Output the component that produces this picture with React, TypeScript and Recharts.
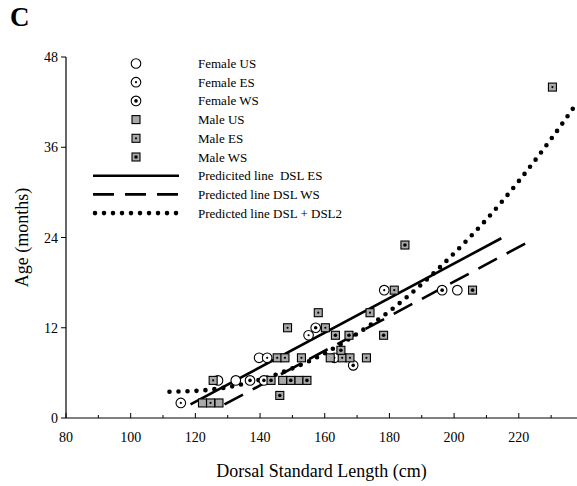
import React from "react";
import {
  ComposedChart,
  Scatter,
  Line,
  XAxis,
  YAxis,
  Legend,
} from "recharts";

const xTicks = [80, 90, 100, 110, 120, 130, 140, 150, 160, 170, 180, 190, 200, 210, 220, 230];
const xLabelled = [80, 100, 120, 140, 160, 180, 200, 220];
const yTicks = [0, 12, 24, 36, 48];

// observed points: x = dorsal standard length (cm), y = age (months)
const femaleUS = [
  { x: 127, y: 5 },
  { x: 132.5, y: 5 },
  { x: 139.7, y: 8 },
  { x: 201, y: 17 },
];
const femaleES = [
  { x: 115.5, y: 2 },
  { x: 142.2, y: 8 },
  { x: 155, y: 11 },
  { x: 163, y: 8 },
  { x: 178.4, y: 17 },
];
const femaleWS = [
  { x: 136.9, y: 5 },
  { x: 141.2, y: 5 },
  { x: 157.2, y: 12 },
  { x: 168.8, y: 7 },
  { x: 196.3, y: 17 },
];
const maleUS = [
  { x: 122.2, y: 2 },
  { x: 127.3, y: 2 },
  { x: 147, y: 5 },
  { x: 152, y: 5 },
  { x: 161.7, y: 8 },
];
const maleES = [
  { x: 124.7, y: 2 },
  { x: 125.5, y: 5 },
  { x: 145.3, y: 8 },
  { x: 147.7, y: 8 },
  { x: 152.8, y: 8 },
  { x: 148.5, y: 12 },
  { x: 160.2, y: 12 },
  { x: 158, y: 14 },
  { x: 174, y: 14 },
  { x: 165.4, y: 8 },
  { x: 167.8, y: 8 },
  { x: 172.9, y: 8 },
  { x: 181.5, y: 17 },
  { x: 230.4, y: 44 },
];
const maleWS = [
  { x: 143.4, y: 5 },
  { x: 149.5, y: 5 },
  { x: 154.5, y: 5 },
  { x: 146.1, y: 3 },
  { x: 163.3, y: 11 },
  { x: 167.5, y: 11 },
  { x: 178.2, y: 11 },
  { x: 165, y: 9 },
  { x: 184.8, y: 23 },
  { x: 205.7, y: 17 },
];

// predicted lines
const lineES = [
  { x: 118.5, y: 1.8 },
  { x: 214.6, y: 23.9 },
];
const lineWS = [
  { x: 129, y: 1.8 },
  { x: 222, y: 23.2 },
];
const lineQuad = [
  { x: 112, y: 3.5 },
  { x: 120, y: 3.6 },
  { x: 130, y: 4.1 },
  { x: 140, y: 5.1 },
  { x: 150, y: 6.6 },
  { x: 160, y: 8.6 },
  { x: 170, y: 11.2 },
  { x: 180, y: 14.2 },
  { x: 190, y: 17.8 },
  { x: 200, y: 21.9 },
  { x: 210, y: 26.4 },
  { x: 220, y: 31.5 },
  { x: 230, y: 37.1 },
  { x: 238, y: 41.9 },
];

const legendNames = [
  "Female US",
  "Female ES",
  "Female WS",
  "Male US",
  "Male ES",
  "Male WS",
  "Predicited line  DSL ES",
  "Predicted line DSL WS",
  "Predicted line DSL + DSL2",
];

const font = "'Liberation Serif', 'Times New Roman', serif";

type Kind = "fUS" | "fES" | "fWS" | "mUS" | "mES" | "mWS";
const kinds: Kind[] = ["fUS", "fES", "fWS", "mUS", "mES", "mWS"];

function Marker({ cx, cy, kind }: { cx: number; cy: number; kind: Kind }) {
  const dotR = kind.endsWith("ES") ? 1.1 : kind.endsWith("WS") ? 1.8 : 0;
  if (kind.startsWith("f")) {
    return (
      <g>
        <circle cx={cx} cy={cy} r={4.8} fill="#fff" stroke="#000" strokeWidth={1.1} />
        {dotR > 0 && <circle cx={cx} cy={cy} r={dotR} fill="#000" />}
      </g>
    );
  }
  return (
    <g>
      <rect x={cx - 4} y={cy - 4} width={8} height={8} fill="#a9a9a9" stroke="#000" strokeWidth={1.1} />
      {dotR > 0 && <circle cx={cx} cy={cy} r={dotR} fill="#000" />}
    </g>
  );
}

const XTick = (props: any) => {
  const { x, y, payload } = props;
  const major = xLabelled.includes(payload.value);
  return (
    <g>
      <line x1={x} x2={x} y1={y} y2={y - (major ? 5 : 3)} stroke="#000" strokeWidth={1} />
      {major && (
        <text x={x} y={y + 24} textAnchor="middle" fontFamily={font} fontSize={14} fill="#000">
          {payload.value}
        </text>
      )}
    </g>
  );
};

const YTick = (props: any) => {
  const { x, y, payload } = props;
  return (
    <g>
      <line x1={x - 5} x2={x} y1={y} y2={y} stroke="#000" strokeWidth={1} />
      <text x={x - 8} y={y + 5} textAnchor="end" fontFamily={font} fontSize={14} fill="#000">
        {payload.value}
      </text>
    </g>
  );
};

const renderLegend = () => {
  const x0 = 93;
  const x1 = 179;
  const mx = 136;
  const tx = 198;
  const rowY = (i: number) => 63.5 + i * 18.7;
  return (
    <svg width={360} height={225} style={{ display: "block" }}>
      {legendNames.map((name, i) => {
        const y = rowY(i);
        let sample: React.ReactNode = null;
        if (i < 6) sample = <Marker cx={mx} cy={y} kind={kinds[i]} />;
        else if (i === 6)
          sample = <line x1={x0} x2={x1} y1={y} y2={y} stroke="#000" strokeWidth={2.6} />;
        else if (i === 7)
          sample = (
            <line x1={x0} x2={x1} y1={y} y2={y} stroke="#000" strokeWidth={2.6} strokeDasharray="21 11" />
          );
        else
          sample = (
            <line
              x1={x0 + 2}
              x2={x1}
              y1={y}
              y2={y}
              stroke="#000"
              strokeWidth={4.6}
              strokeLinecap="round"
              strokeDasharray="0 9"
            />
          );
        return (
          <g key={name}>
            {sample}
            <text x={tx} y={y + 4.5} fontFamily={font} fontSize={13} fill="#000" style={{ whiteSpace: "pre" }}>
              {name}
            </text>
          </g>
        );
      })}
    </svg>
  );
};

const seriesSets: { data: { x: number; y: number }[]; kind: Kind }[] = [
  { data: femaleUS, kind: "fUS" },
  { data: femaleES, kind: "fES" },
  { data: femaleWS, kind: "fWS" },
  { data: maleUS, kind: "mUS" },
  { data: maleES, kind: "mES" },
  { data: maleWS, kind: "mWS" },
];

export default function App() {
  return (
    <div style={{ position: "absolute", left: 0, top: 0, width: 577, height: 486, background: "#fff" }}>
      <div
        style={{
          position: "absolute",
          left: 10,
          top: 2,
          fontFamily: font,
          fontWeight: "bold",
          fontSize: 27,
          lineHeight: "30px",
          zIndex: 2,
        }}
      >
        C
      </div>
      <ComposedChart width={577} height={486} margin={{ top: 57, right: 0, bottom: 0, left: 0 }}>
        <XAxis
          type="number"
          dataKey="x"
          domain={[80, 238]}
          allowDataOverflow
          ticks={xTicks}
          interval={0}
          height={68}
          tickSize={0}
          tickMargin={0}
          tickLine={false}
          tick={XTick}
          axisLine={{ stroke: "#000", strokeWidth: 1.2 }}
          label={{
            value: "Dorsal Standard Length (cm)",
            position: "insideBottom",
            offset: 9,
            fontFamily: font,
            fontSize: 18,
            fill: "#000",
          }}
        />
        <YAxis
          type="number"
          dataKey="y"
          domain={[0, 48]}
          ticks={yTicks}
          interval={0}
          width={66}
          tickSize={0}
          tickMargin={0}
          tickLine={false}
          tick={YTick}
          axisLine={{ stroke: "#000", strokeWidth: 1.2 }}
          label={{
            value: "Age (months)",
            angle: -90,
            position: "insideLeft",
            offset: 22,
            fontFamily: font,
            fontSize: 18,
            fill: "#000",
            style: { textAnchor: "middle" },
          }}
        />
        <Legend
          layout="horizontal"
          verticalAlign="middle"
          align="center"
          wrapperStyle={{ left: 0, top: 0, width: 360, height: 225 }}
          content={renderLegend}
        />
        <Line
          data={lineES}
          dataKey="y"
          name="Predicited line  DSL ES"
          type="linear"
          stroke="#000"
          strokeWidth={2.6}
          dot={false}
          activeDot={false}
          isAnimationActive={false}
        />
        <Line
          data={lineWS}
          dataKey="y"
          name="Predicted line DSL WS"
          type="linear"
          stroke="#000"
          strokeWidth={2.6}
          strokeDasharray="21 11"
          dot={false}
          activeDot={false}
          isAnimationActive={false}
        />
        <Line
          data={lineQuad}
          dataKey="y"
          name="Predicted line DSL + DSL2"
          type="monotone"
          stroke="#000"
          strokeWidth={4.6}
          strokeLinecap="round"
          strokeDasharray="0 9"
          dot={false}
          activeDot={false}
          isAnimationActive={false}
        />
        {seriesSets.map((s, i) => (
          <Scatter
            key={s.kind}
            name={legendNames[i]}
            data={s.data}
            isAnimationActive={false}
            shape={(p: any) => <Marker cx={p.cx} cy={p.cy} kind={s.kind} />}
          />
        ))}
      </ComposedChart>
    </div>
  );
}
